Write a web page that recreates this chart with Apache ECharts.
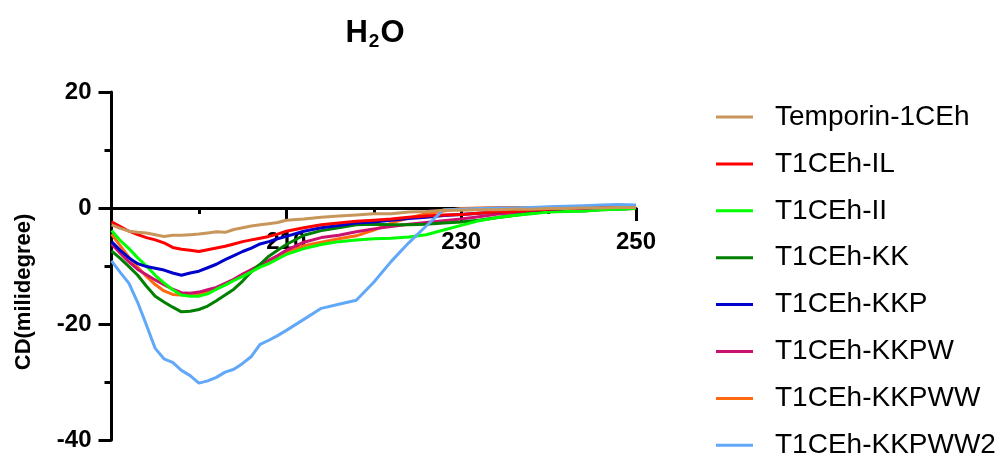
<!DOCTYPE html>
<html>
<head>
<meta charset="utf-8">
<script src="https://cdn.jsdelivr.net/npm/echarts@6/dist/echarts.min.js"></script>
<style>
html,body{margin:0;padding:0;background:#fff;}
#chart{width:1008px;height:455px;}
</style>
</head>
<body>
<div id="chart"></div>
<script>
// Wavelength (nm)
const wavelength = [190,191,192,193,194,195,196,197,198,199,200,201,202,203,204,205,206,207,208,209,210,
  212,214,216,218,220,222,224,226,228,230,232,234,236,238,240,242,244,246,248,250];

const seriesNames = ['Temporin-1CEh','T1CEh-IL','T1CEh-II','T1CEh-KK','T1CEh-KKP','T1CEh-KKPW','T1CEh-KKPWW','T1CEh-KKPWW2'];

const temporin = [-2.9,-3.5,-4.0,-4.2,-4.3,-4.6,-4.9,-4.7,-4.7,-4.6,-4.5,-4.3,-4.1,-4.2,-3.7,-3.4,-3.1,-2.9,-2.7,-2.5,-2.1,
  -1.9,-1.6,-1.4,-1.2,-1.0,-1.0,-0.7,-0.6,-0.4,-0.4,-0.3,-0.3,-0.2,-0.2,-0.1,-0.1,0,0,0.1,0.1];
const t1cehIL = [-2.4,-3.2,-4.0,-4.6,-5.1,-5.5,-6.0,-6.8,-7.1,-7.3,-7.5,-7.2,-6.9,-6.6,-6.2,-5.8,-5.5,-5.2,-4.9,-4.5,-4.0,
  -3.4,-2.9,-2.6,-2.3,-2.1,-1.9,-1.6,-1.4,-1.2,-1.1,-0.9,-0.7,-0.6,-0.4,-0.2,-0.1,0,0.1,0.2,0.3];
const t1cehII = [-3.9,-5.6,-7.0,-8.6,-10.0,-11.6,-12.9,-14.1,-15.0,-15.2,-15.2,-14.8,-14.0,-13.3,-12.5,-11.8,-11.0,-10.2,-9.6,-8.8,-8.0,
  -7.0,-6.3,-5.8,-5.5,-5.3,-5.2,-5.0,-4.6,-3.8,-3.0,-2.2,-1.7,-1.3,-1.0,-0.7,-0.6,-0.5,-0.3,-0.2,-0.05];
const t1cehKK = [-7.4,-8.7,-10.1,-11.6,-13.5,-15.2,-16.2,-17.1,-17.9,-17.8,-17.5,-16.9,-16.0,-15.0,-14.0,-12.6,-11.0,-9.7,-8.3,-7.3,-6.3,
  -4.7,-3.9,-3.4,-2.9,-2.8,-2.9,-2.9,-2.8,-2.6,-2.4,-2.1,-1.7,-1.3,-0.9,-0.6,-0.5,-0.5,-0.3,-0.2,-0.1];
const t1cehKKP = [-5.8,-7.3,-8.6,-9.6,-10.1,-10.4,-10.7,-11.2,-11.6,-11.2,-10.9,-10.3,-9.7,-8.9,-8.2,-7.5,-6.9,-6.2,-5.8,-5.3,-4.9,
  -4.0,-3.4,-3.0,-2.6,-2.4,-2.1,-1.8,-1.6,-1.3,-1.1,-0.9,-0.7,-0.5,-0.4,-0.2,-0.1,0,0.1,0.2,0.2];
const t1cehKKPW = [-6.2,-7.8,-9.3,-10.6,-11.5,-12.4,-13.2,-14.0,-14.6,-14.7,-14.5,-14.1,-13.7,-13.0,-12.3,-11.4,-10.6,-9.8,-9.0,-8.2,-7.3,
  -5.9,-5.1,-4.7,-4.1,-3.6,-3.2,-2.8,-2.5,-2.2,-1.9,-1.5,-1.1,-0.8,-0.6,-0.4,-0.3,-0.1,0,0.1,0.2];
const t1cehKKPWW = [-4.5,-6.5,-8.5,-10.2,-11.8,-13.2,-14.3,-14.9,-15.0,-15.0,-14.8,-14.4,-13.8,-13.1,-12.3,-11.5,-10.8,-10.1,-9.4,-8.7,-7.8,
  -6.5,-5.9,-5.3,-4.8,-3.8,-2.6,-1.7,-1.0,-0.5,-0.1,0,0.1,0.1,0.1,0.1,0.1,0.1,0.1,0.1,0.1];
const t1cehKKPWW2 = [-9.1,-11.1,-13.0,-16.3,-20.2,-24.2,-26.0,-26.6,-28.0,-28.9,-30.2,-29.8,-29.2,-28.3,-27.8,-26.8,-25.6,-23.5,-22.8,-22.0,-21.1,
  -19.2,-17.3,-16.6,-15.9,-12.8,-9.2,-6.0,-3.1,-0.3,-0.2,-0.1,0,0,0.1,0.2,0.3,0.4,0.5,0.6,0.5];

const colors = {
  'Temporin-1CEh':'#C8965A',
  'T1CEh-IL':'#FF0000',
  'T1CEh-II':'#00FF00',
  'T1CEh-KK':'#008000',
  'T1CEh-KKP':'#0000CC',
  'T1CEh-KKPW':'#CC1070',
  'T1CEh-KKPWW':'#FF6A10',
  'T1CEh-KKPWW2':'#62A8F8'
};
const valuesByName = {
  'Temporin-1CEh':temporin,'T1CEh-IL':t1cehIL,'T1CEh-II':t1cehII,'T1CEh-KK':t1cehKK,
  'T1CEh-KKP':t1cehKKP,'T1CEh-KKPW':t1cehKKPW,'T1CEh-KKPWW':t1cehKKPWW,'T1CEh-KKPWW2':t1cehKKPWW2
};
const drawOrder = ['T1CEh-KKPWW','T1CEh-KKPW','T1CEh-KK','T1CEh-II','T1CEh-KKP','T1CEh-IL','T1CEh-KKPWW2','Temporin-1CEh'];

const FONT = 'Arial, "Liberation Sans", sans-serif';
const chart = echarts.init(document.getElementById('chart'), null, {renderer:'canvas'});
chart.setOption({
  animation:false,
  backgroundColor:'#fff',
  graphic:[
    {type:'text', x:375, y:33, style:{
      text:'{a|H}{s|2}{a|O}', x:0, y:0, align:'center', verticalAlign:'middle',
      rich:{
        a:{fontFamily:FONT, fontWeight:'bold', fontSize:31, lineHeight:36, fill:'#000'},
        s:{fontFamily:FONT, fontWeight:'bold', fontSize:19, lineHeight:36, verticalAlign:'bottom', padding:[13,1,0,1], fill:'#000'}
      }
    }},
    {type:'text', x:24, y:292, rotation:Math.PI/2, style:{
      text:'CD(milidegree)', fontFamily:FONT, fontWeight:'bold', fontSize:22, fill:'#000',
      align:'center', verticalAlign:'middle'
    }}
  ],
  legend:{
    orient:'vertical', left:716, top:103, height:360, padding:0,
    data:seriesNames,
    icon:'rect', itemWidth:37, itemHeight:3, itemGap:18.9,
    textStyle:{fontFamily:FONT, fontSize:28, color:'#000', padding:[0,0,0,17]}
  },
  grid:{left:111.5, right:372, top:92, bottom:15, containLabel:false, outerBoundsMode:'none'},
  xAxis:{
    type:'value', min:190, max:250, interval:20, position:'bottom', offset:-232,
    axisLine:{onZero:false, lineStyle:{color:'#000', width:3}},
    axisTick:{show:true, length:13, lineStyle:{color:'#000', width:3}},
    minorTick:{show:true, splitNumber:2, length:6, lineStyle:{color:'#000', width:3}},
    splitLine:{show:false},
    axisLabel:{showMinLabel:false, fontFamily:FONT, fontWeight:'bold', fontSize:24, color:'#000', margin:22}
  },
  yAxis:{
    type:'value', min:-40, max:20, interval:20,
    axisLine:{show:true, onZero:false, lineStyle:{color:'#000', width:3}},
    axisTick:{show:true, length:13, lineStyle:{color:'#000', width:3}},
    minorTick:{show:true, splitNumber:2, length:7, lineStyle:{color:'#000', width:3}},
    splitLine:{show:false},
    axisLabel:{fontFamily:FONT, fontWeight:'bold', fontSize:24, color:'#000', margin:20}
  },
  series: drawOrder.map(name => ({
    name:name, type:'line', showSymbol:false, symbol:'none', smooth:false,
    color:colors[name],
    lineStyle:{color:colors[name], width:3},
    data: wavelength.map((w,i)=>[w, valuesByName[name][i]])
  }))
});
</script>
</body>
</html>
